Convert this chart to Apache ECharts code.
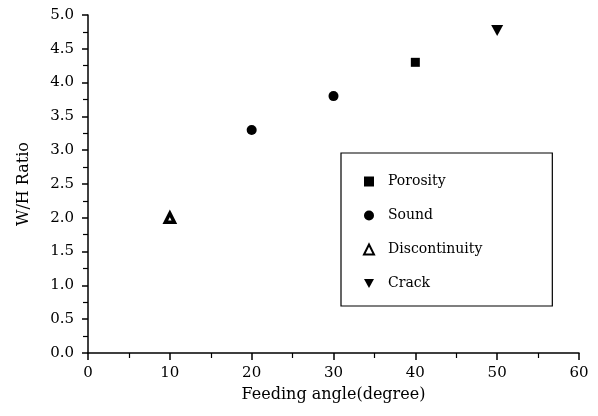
<!DOCTYPE html>
<html>
<head>
<meta charset="utf-8">
<script src="https://cdn.jsdelivr.net/npm/echarts@6/dist/echarts.min.js"></script>
<style>
  html, body { margin: 0; padding: 0; background: #fff; }
  #chart { width: 598px; height: 416px; }
</style>
</head>
<body>
<div id="chart"></div>
<script>
const porosity = [[40, 4.3]];
const sound = [[20, 3.3], [30, 3.8]];
const discontinuity = [[10, 2.0]];
const crack = [[50, 4.77]];

const font = 'DejaVu Serif';
const chart = echarts.init(document.getElementById('chart'));

const axisLine = { lineStyle: { color: '#000', width: 1.5 } };
const downTriangle = 'path://M0,0L12,0L6,11Z';

const option = {
  backgroundColor: '#fff',
  animation: false,
  grid: { left: 88, right: 19, top: 15, bottom: 63 },
  xAxis: {
    type: 'value',
    min: 0, max: 60, interval: 10,
    name: 'Feeding angle(degree)',
    nameLocation: 'middle',
    nameGap: 34,
    nameTextStyle: { fontFamily: font, fontSize: 16, color: '#000' },
    axisLine: axisLine,
    axisTick: { show: true, length: 7, lineStyle: { color: '#000', width: 1.5 } },
    minorTick: { show: true, splitNumber: 2, length: 5, lineStyle: { color: '#000', width: 1.2 } },
    splitLine: { show: false },
    axisLabel: { fontFamily: font, fontSize: 15, color: '#000', margin: 13 }
  },
  yAxis: {
    type: 'value',
    min: 0, max: 5, interval: 0.5,
    name: 'W/H Ratio',
    nameLocation: 'middle',
    nameGap: 56,
    nameTextStyle: { fontFamily: font, fontSize: 16, color: '#000' },
    axisLine: axisLine,
    axisTick: { show: true, length: 6, lineStyle: { color: '#000', width: 1.5 } },
    minorTick: { show: true, splitNumber: 2, length: 5, lineStyle: { color: '#000', width: 1.2 } },
    splitLine: { show: false },
    axisLabel: { fontFamily: font, fontSize: 15, color: '#000', margin: 14,
      formatter: v => v.toFixed(1) }
  },
  legend: {
    orient: 'vertical',
    left: 341, top: 153,
    padding: [21, 70, 15, 22],
    itemGap: 19,
    itemWidth: 10, itemHeight: 10,
    borderColor: '#000', borderWidth: 1.2,
    textStyle: { fontFamily: font, fontSize: 14, color: '#000', lineHeight: 15, padding: [0, 0, 0, 9] },
    data: ['Porosity', 'Sound', 'Discontinuity', 'Crack']
  },
  series: [
    { name: 'Porosity', type: 'scatter', data: porosity, symbol: 'rect', symbolSize: 9,
      itemStyle: { color: '#000', opacity: 1 } },
    { name: 'Sound', type: 'scatter', data: sound, symbol: 'circle', symbolSize: 10,
      itemStyle: { color: '#000', opacity: 1 } },
    { name: 'Discontinuity', type: 'scatter', data: discontinuity, symbol: 'triangle', symbolSize: 9,
      itemStyle: { color: '#fff', borderColor: '#000', borderWidth: 3.5, opacity: 1 } },
    { name: 'Crack', type: 'scatter', data: crack, symbol: downTriangle, symbolSize: [12, 11],
      itemStyle: { color: '#000', opacity: 1 } }
  ]
};

chart.setOption(option);
</script>
</body>
</html>
